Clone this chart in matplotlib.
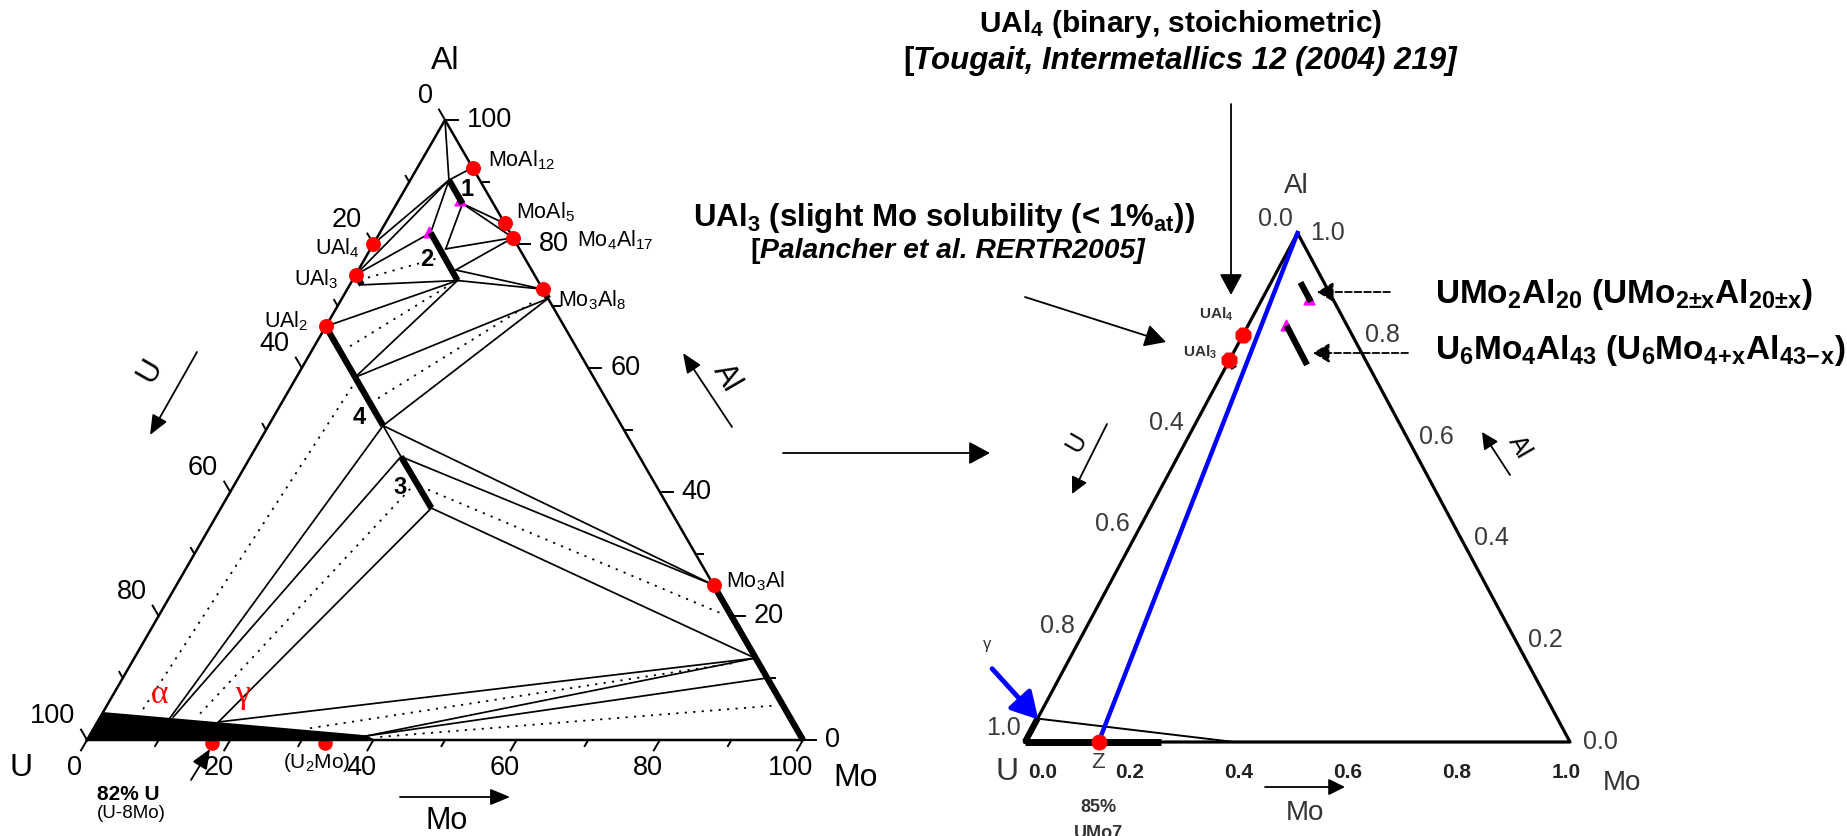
import numpy as np
import matplotlib
matplotlib.use("Agg")
import matplotlib.pyplot as plt
from matplotlib.patches import Polygon

W, H = 1847, 836
SANS = ["Liberation Sans", "DejaVu Sans"]
NARROW = ["Liberation Sans Narrow", "Liberation Sans", "DejaVu Sans"]
SERIF = ["Liberation Serif", "DejaVu Serif"]
plt.rcParams["font.family"] = SANS
plt.rcParams["mathtext.default"] = "regular"

# compositions are (x_Mo, x_Al), x_U = 1 - x_Mo - x_Al
AL_CORNER = (0.0, 1.0)
MO_CORNER = (1.0, 0.0)
MOAL12 = (0.077, 0.923)
MOAL5 = (0.167, 0.833)
MO4AL17 = (0.190, 0.810)
MO3AL8 = (0.273, 0.727)
MO3AL8_END = (0.288, 0.712)
MO3AL = (0.750, 0.250)
UAL4 = (0.0, 0.800)
UAL3 = (0.0, 0.750)
UAL3_END = (0.017, 0.734)
UAL2 = (0.0, 0.667)

# ternary phases 1..4 (homogeneity ranges) and points on them
P1_TOP, P1_BOT = (0.054, 0.903), (0.092, 0.865)
P2_TOP, P2_M1, P2_M2, P2_BOT = (0.071, 0.818), (0.105, 0.792), (0.136, 0.758), (0.147, 0.741)
P4_PT, P4_END = (0.082, 0.585), (0.160, 0.507)
P3_TOP, P3_BOT = (0.210, 0.457), (0.294, 0.374)
MO_SS_A, MO_SS_B = (0.867, 0.132), (0.900, 0.100)
ALPHA_A, ALPHA_B = (0.098, 0.035), (0.102, 0.037)
GAMMA_PT = (0.169, 0.029)
GAMMA_TIP = (0.387, 0.0065)
UMO2AL20 = (0.086, 0.871)
U6MO4AL43 = (0.068, 0.820)

# gamma-U(Mo) field, U corner side
gamma_mo = [0.0, 0.0, 0.387, 0.400]
gamma_al = [0.0, 0.044, 0.0065, 0.0]

compound_pts = [MOAL12, MOAL5, MO4AL17, MO3AL8, MO3AL, UAL4, UAL3, UAL2]
compound_lbl = ["MoAl$_{12}$", "MoAl$_5$", "Mo$_4$Al$_{17}$", "Mo$_3$Al$_8$",
                "Mo$_3$Al", "UAl$_4$", "UAl$_3$", "UAl$_2$"]
bottom_dots_mo = [0.175, 0.333]

thick_phases = [(P1_TOP, P1_BOT), (P2_TOP, P2_BOT), (UAL3, UAL3_END), (MO3AL8, MO3AL8_END),
                (UAL2, P4_END), (P3_TOP, P3_BOT), (MO3AL, MO_CORNER)]

solid_ties = [
    (AL_CORNER, P1_TOP), (MOAL12, P1_TOP), (UAL4, P1_TOP), (UAL3, P1_TOP), (P1_TOP, P2_TOP),
    (P1_BOT, P2_M1), (P1_BOT, MOAL5), (P1_BOT, MO4AL17), (MO4AL17, P2_M1), (MO4AL17, P2_M2),
    (MO3AL8, P2_M2), (MO3AL8, P2_BOT), (UAL3, P2_TOP), (UAL3_END, P2_BOT), (UAL2, P2_BOT),
    (P4_PT, P2_BOT), (P4_PT, MO3AL8_END), (P4_END, MO3AL8_END), (P4_END, P3_TOP),
    (P4_END, MO3AL), (P3_TOP, MO3AL), (P3_BOT, MO_SS_A), (P4_END, ALPHA_A), (P3_TOP, ALPHA_B),
    (P3_BOT, GAMMA_PT), (GAMMA_PT, MO_SS_A), (GAMMA_TIP, MO_SS_A), (GAMMA_TIP, MO_SS_B),
]
dotted_ties = [
    ((0.010, 0.742), (0.109, 0.780)),
    ((0.050, 0.635), (0.137, 0.731)),
    ((0.131, 0.551), (0.273, 0.710)),
    ((0.261, 0.409), (0.784, 0.204)),
    ((0.086, 0.581), (0.053, 0.042)),
    ((0.252, 0.415), (0.135, 0.037)),
    ((0.302, 0.019), (0.841, 0.124)),
    ((0.407, 0.005), (0.937, 0.056)),
]

# right-hand (simplified) diagram
z_mo = 0.135
right_wedge_mo = [0.0, 0.0, 0.384]
right_wedge_al = [0.0, 0.046, 0.0]
right_u_ticks = [0.0, 0.4, 0.6, 0.8, 1.0]
right_al_ticks = [1.0, 0.8, 0.6, 0.4, 0.2, 0.0]
right_mo_ticks = [0.0, 0.2, 0.4, 0.6, 0.8, 1.0]

R3 = np.sqrt(3) / 2


def tern(mo, al):
    mo = np.asarray(mo, float)
    al = np.asarray(al, float)
    return mo + al / 2.0, al * R3


def tpt(p):
    x, y = tern(*p)
    return float(x), float(y)


def seg(ax, p, q, **kw):
    x, y = tern([p[0], q[0]], [p[1], q[1]])
    ax.plot(x, y, **kw)


def overlay_axes(fig, ox, oy, sx, sy, z):
    # ox, oy: pixel of the U corner (from top-left); sx, sy: pixels per unit
    ax = fig.add_axes([0, 0, 1, 1], zorder=z)
    ax.set_xlim(-ox / sx, (W - ox) / sx)
    ax.set_ylim(-(H - oy) / sy, oy / sy)
    ax.axis("off")
    return ax


fig = plt.figure(figsize=(W / 100, H / 100), dpi=100)
axL = overlay_axes(fig, 87, 740, 716, 716, 1)
axR = overlay_axes(fig, 1025, 742, 545, 509 / R3, 2)
axP = fig.add_axes([0, 0, 1, 1], zorder=3)
axP.set_xlim(0, W)
axP.set_ylim(H, 0)
axP.axis("off")

# ---------------- left diagram ----------------
ex, ey = tern([0, 1, 0, 0], [0, 0, 1, 0])
axL.plot(ex, ey, color="k", lw=1.8, zorder=3)

for k in range(11):
    v = k / 10
    L = (12 if k % 2 == 0 else 7) / 716
    x, y = tpt((v, 0))
    axL.plot([x, x - 0.5 * L], [y, y - R3 * L], color="k", lw=1.4)
    x, y = tpt((0, 1 - v))
    axL.plot([x, x - 0.5 * L], [y, y + R3 * L], color="k", lw=1.4)
    x, y = tpt((1 - v, v))
    axL.plot([x, x + L * 1.1], [y, y], color="k", lw=1.4)
    if k % 2 == 0:
        lab = str(10 * k)
        axL.annotate(lab, tpt((v, 0)), xytext=(-12, -28), textcoords="offset pixels",
                     ha="center", va="center", fontsize=19.5)
        axL.annotate(lab, tpt((0, 1 - v)), xytext=(-12, 24), textcoords="offset pixels",
                     ha="right", va="center", fontsize=19.5)
        axL.annotate(lab, tpt((1 - v, v)), xytext=(22, 0), textcoords="offset pixels",
                     ha="left", va="center", fontsize=19.5)

for p, q in solid_ties:
    seg(axL, p, q, color="k", lw=1.25, zorder=2)
for p, q in dotted_ties:
    seg(axL, p, q, color="k", lw=1.3, ls=(0, (1.2, 3.5)), zorder=2)

# red dots of U-Mo compositions below the gamma field
bx, by = tern(bottom_dots_mo, [0, 0])
axL.scatter(bx, by - 0.004, s=90, color="red", zorder=2)

gx, gy = tern(gamma_mo, gamma_al)
axL.add_patch(Polygon(np.column_stack([gx, gy]), closed=True, fc="k", ec="k", lw=1, zorder=4))

tx, ty = tern([UMO2AL20[0], U6MO4AL43[0]], [UMO2AL20[1], U6MO4AL43[1]])
axL.scatter(tx, ty, marker="^", s=60, color="magenta", zorder=4)
for p, q in thick_phases:
    seg(axL, p, q, color="k", lw=4.5, zorder=5, solid_capstyle="butt")

cx, cy = tern([p[0] for p in compound_pts], [p[1] for p in compound_pts])
axL.scatter(cx, cy, s=95, color="red", zorder=6)
lbl_off = [(15, 7), (11, 11), (64, -2), (15, -11), (13, 4), (-14, -4), (-17, -4), (-17, 5)]
for p, lab, off in zip(compound_pts, compound_lbl, lbl_off):
    axL.annotate(lab, tpt(p), xytext=off, textcoords="offset pixels",
                 ha="left" if off[0] > 0 else "right", va="center", fontsize=15.5)

# ---------------- right diagram ----------------
rx, ry = tern([0, 1, 0, 0], [0, 0, 1, 0])
axR.plot(rx, ry, color="k", lw=2.3, zorder=3)
wx, wy = tern(right_wedge_mo, right_wedge_al)
axR.plot(wx[1:], wy[1:], color="k", lw=1.4, zorder=3)
seg(axR, (0, 0), (0, 0.046), color="k", lw=4.5, zorder=4, solid_capstyle="butt")
seg(axR, (0, 0), (0.25, 0), color="k", lw=5, zorder=4, solid_capstyle="butt")
seg(axR, AL_CORNER, (z_mo, 0), color="#0000ff", lw=3.2, zorder=5)
axR.scatter(*tpt((z_mo, 0)), s=110, color="red", zorder=6)
axR.scatter(tx, ty, marker="^", s=60, color="magenta", zorder=4)
for p, q in [(P1_TOP, P1_BOT), (P2_TOP, P2_BOT), (UAL3, UAL3_END)]:
    seg(axR, p, q, color="k", lw=4.5, zorder=5, solid_capstyle="butt")
ux, uy = tern([UAL4[0], UAL3[0]], [UAL4[1], UAL3[1]])
axR.scatter(ux, uy, marker="8", s=130, color="red", zorder=6)
axR.annotate("UAl$_4$", tpt(UAL4), xytext=(-10, 20), textcoords="offset pixels", ha="right",
             va="center", fontsize=11, fontweight="bold", family=NARROW, color="#333333")
axR.annotate("UAl$_3$", tpt(UAL3), xytext=(-12, 8), textcoords="offset pixels", ha="right",
             va="center", fontsize=11, fontweight="bold", family=NARROW, color="#333333")
axR.annotate("", xy=tpt((0.008, 0.040)), xytext=(-50, 55), textcoords="offset pixels",
             arrowprops=dict(arrowstyle="-|>,head_length=0.8,head_width=0.45", color="#0000ff",
                             lw=3.5, mutation_scale=20), zorder=6)
for u in right_u_ticks:
    axR.annotate(f"{u:.1f}", tpt((0, 1 - u)), xytext=(-22, 14), textcoords="offset pixels",
                 ha="center", va="center", fontsize=18, family=NARROW, color="#3a3a3a")
for a in right_al_ticks:
    axR.annotate(f"{a:.1f}", tpt((1 - a, a)), xytext=(30, 0), textcoords="offset pixels",
                 ha="center", va="center", fontsize=18, family=NARROW, color="#3a3a3a")
for m in right_mo_ticks:
    dx = 18 if m == 0 else -4
    axR.annotate(f"{m:.1f}", tpt((m, 0)), xytext=(dx, -30), textcoords="offset pixels",
                 ha="center", va="center", fontsize=15, fontweight="bold", family=NARROW,
                 color="#222222")
axR.annotate("Z", tpt((z_mo, 0)), xytext=(0, -21), textcoords="offset pixels", ha="center",
             va="center", fontsize=16, family=NARROW, color="#3a3a3a")

# ---------------- free text & arrows (pixel space) ----------------
def arrow(x0, y0, x1, y1, hl=0.65, hw=0.35, lw=1.3, ls="-", ms=20):
    axP.annotate("", xy=(x1, y1), xytext=(x0, y0),
                 arrowprops=dict(arrowstyle=f"-|>,head_length={hl},head_width={hw}",
                                 color="k", lw=lw, ls=ls, mutation_scale=ms,
                                 shrinkA=0, shrinkB=0))


# left-diagram labels
axP.text(445, 61, "Al", ha="center", va="center", fontsize=23)
axP.text(21, 768, "U", ha="center", va="center", fontsize=23)
axP.text(856, 778, "Mo", ha="center", va="center", fontsize=23)
axP.text(150, 370, "U", ha="center", va="center", fontsize=22, rotation=60)
arrow(197, 352, 150, 435, hl=0.6, hw=0.25)
axP.text(727, 378, "Al", ha="center", va="center", fontsize=22, rotation=-60)
arrow(732, 427, 683, 353, hl=0.6, hw=0.25)
axP.text(447, 821, "Mo", ha="center", va="center", fontsize=22)
arrow(400, 797, 510, 797, hl=0.6, hw=0.25)
for lab, x, y in [("1", 467, 189), ("2", 427, 260), ("3", 400, 488), ("4", 359, 417)]:
    axP.text(x, y, lab, ha="center", va="center", fontsize=17, fontweight="bold")
axP.text(160, 695, "α", ha="center", va="center", fontsize=24, color="red", family=SERIF)
axP.text(242, 695, "γ", ha="center", va="center", fontsize=24, color="red", family=SERIF)
axP.text(317, 763, "(U$_2$Mo)", ha="center", va="center", fontsize=15)
axP.text(128, 795, "82% U", ha="center", va="center", fontsize=15, fontweight="bold")
axP.text(131, 814, "(U-8Mo)", ha="center", va="center", fontsize=13.5)
arrow(191, 780, 210, 749, hl=0.6, hw=0.25)

# right-diagram labels
axP.text(1296, 186, "Al", ha="center", va="center", fontsize=20, family=NARROW, color="#333333")
axP.text(1007, 772, "U", ha="center", va="center", fontsize=23, family=NARROW, color="#333333")
axP.text(1622, 783, "Mo", ha="center", va="center", fontsize=20, family=NARROW, color="#333333")
axP.text(1077, 443, "U", ha="center", va="center", fontsize=18, family=NARROW, rotation=60)
arrow(1107, 424, 1072, 494, hl=0.5, hw=0.25)
axP.text(1520, 447, "Al", ha="center", va="center", fontsize=18, family=NARROW, rotation=-60)
arrow(1510, 475, 1482, 432, hl=0.5, hw=0.25)
axP.text(1305, 813, "Mo", ha="center", va="center", fontsize=20, family=NARROW, color="#333333")
arrow(1265, 787, 1345, 787, hl=0.5, hw=0.25)
axP.text(987, 645, "γ", ha="center", va="center", fontsize=12, color="#333333")
axP.text(1098, 807, "85%", ha="center", va="center", fontsize=13, fontweight="bold",
         family=NARROW, color="#333333")
axP.text(1098, 834, "UMo7", ha="center", va="center", fontsize=13, fontweight="bold",
         family=NARROW, color="#333333")

# annotations around the right diagram
BIG = dict(fontweight="bold", family=NARROW)
axP.text(1181, 24, "UAl$_4$ (binary, stoichiometric)", ha="center", va="center", fontsize=21.5, **BIG)
axP.text(944, 218, "UAl$_3$ (slight Mo solubility (< 1%$_{at}$))", ha="center", va="center",
         fontsize=22.5, **BIG)
axP.text(1435, 295, "UMo$_2$Al$_{20}$ (UMo$_{2±x}$Al$_{20±x}$)", ha="left", va="center",
         fontsize=24, **BIG)
axP.text(1435, 351, r"U$_6$Mo$_4$Al$_{43}$ (U$_6$Mo$_{4\!+\!x}$Al$_{43\!-\!x}$)", ha="left",
         va="center", fontsize=24, **BIG)


def ref_line(x, y, inner, size):
    t = axP.text(x + 5, y, inner, ha="center", va="center", fontsize=size, fontweight="bold",
                 fontstyle="italic", family=NARROW)
    fig.canvas.draw()
    bb = t.get_window_extent()
    x0 = axP.transData.inverted().transform((bb.x0, bb.y0))[0]
    axP.text(x0, y, "[", ha="right", va="center", fontsize=size, fontweight="bold", family=NARROW)


ref_line(1180, 61, "Tougait, Intermetallics 12 (2004) 219]", 22.5)
ref_line(947, 251, "Palancher et al. RERTR2005]", 20.3)

arrow(1231, 104, 1231, 295)
arrow(1025, 297, 1166, 342)
arrow(783, 453, 990, 453)
arrow(1390, 292, 1317, 292, hl=0.5, hw=0.3, ls="--")
arrow(1408, 353, 1313, 353, hl=0.5, hw=0.3, ls="--")

fig.savefig("out.png", dpi=100)
